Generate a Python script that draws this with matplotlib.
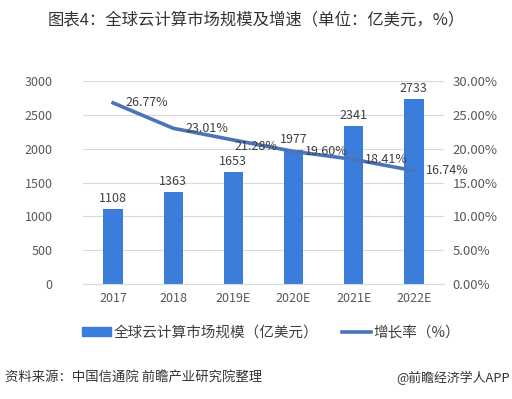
import matplotlib
matplotlib.use("Agg")
import matplotlib.pyplot as plt
from matplotlib.ticker import FuncFormatter
from matplotlib.patches import Patch
from matplotlib.lines import Line2D

plt.rcParams['font.family'] = ['Noto Sans CJK SC', 'DejaVu Sans']

categories = ['2017', '2018', '2019E', '2020E', '2021E', '2022E']
market_size = [1108, 1363, 1653, 1977, 2341, 2733]
growth_rate = [26.77, 23.01, 21.28, 19.60, 18.41, 16.74]
bar_label = '全球云计算市场规模（亿美元）'
line_label = '增长率（%）'
title = '图表4：全球云计算市场规模及增速（单位：亿美元，%）'
source = '资料来源：中国信通院 前瞻产业研究院整理'
brand = '@前瞻经济学人APP'

# label offsets in points (style only)
label_offsets = [(9, 0), (9, 0), (1, -5), (8, 0), (8, 0), (9, 0)]

bar_color = '#3A7DDB'
line_color = '#4A73BA'
text_color = '#404040'
tick_color = '#595959'

fig = plt.figure(figsize=(5.12, 3.99), dpi=100)
ax = fig.add_axes([83/512, 1-284/399, (444-83)/512, (284-81)/399])
ax2 = ax.twinx()

x = list(range(len(categories)))
ax.bar(x, market_size, width=0.32, color=bar_color, zorder=2)
ax.set_ylim(0, 3000)
ax.set_yticks(range(0, 3001, 500))
ax.set_xlim(-0.5, len(categories) - 0.5)
ax.set_xticks(x)
ax.set_xticklabels(categories)
ax.grid(axis='y', color='#D9D9D9', linewidth=0.8, zorder=0)
ax.set_axisbelow(True)
for s in ['top', 'right', 'left']:
    ax.spines[s].set_visible(False)
ax.spines['bottom'].set_color('#D9D9D9')
ax.tick_params(axis='both', length=0, colors=tick_color, labelsize=9)
ax.tick_params(axis='y', pad=22)
ax.tick_params(axis='x', pad=6)

for xi, v in zip(x, market_size):
    ax.text(xi, v + 60, f'{v}', ha='center', va='bottom', fontsize=9, color=text_color)

ax2.plot(x, growth_rate, color=line_color, linewidth=2.6, zorder=3)
ax2.set_ylim(0, 30)
ax2.set_yticks(range(0, 31, 5))
ax2.yaxis.set_major_formatter(FuncFormatter(lambda v, p: f'{v:.2f}%'))
for s in ['top', 'right', 'left', 'bottom']:
    ax2.spines[s].set_visible(False)
ax2.tick_params(axis='y', length=0, colors=tick_color, labelsize=9.5, pad=6)
for xi, v, off in zip(x, growth_rate, label_offsets):
    ax2.annotate(f'{v:.2f}%', (xi, v), xytext=off, textcoords='offset points',
                 ha='left', va='center', fontsize=9, color=text_color)

fig.text(0.5, 1-20/399, title, ha='center', va='center', fontsize=11.8, color='#333333')

handles = [Patch(color=bar_color), Line2D([0], [0], color=line_color, linewidth=2.6)]
fig.legend(handles, [bar_label, line_label], loc='center', bbox_to_anchor=(271/512, 1-333/399),
           ncol=2, frameon=False, fontsize=10.5, handlelength=2.0, handleheight=0.6,
           handletextpad=0.2, columnspacing=1.6, labelcolor='#404040')

fig.text(5/512, 1-378/399, source, ha='left', va='center', fontsize=9.6, style='italic', color='#333333')
fig.text(510/512, 1-378/399, brand, ha='right', va='center', fontsize=9.3, color='#333333')

fig.savefig('out.png', dpi=100)
